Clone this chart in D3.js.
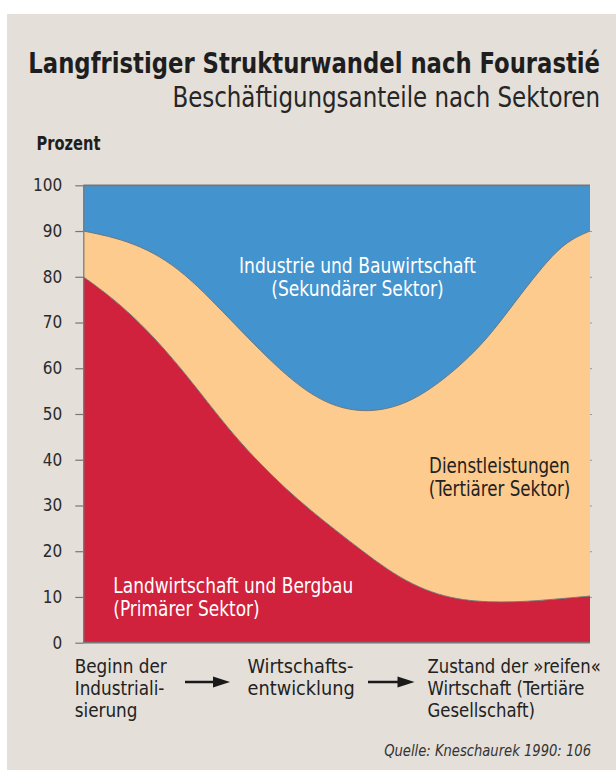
<!DOCTYPE html>
<html>
<head>
<meta charset="utf-8">
<script src="https://cdn.jsdelivr.net/npm/d3@7"></script>
<style>
  html, body { margin: 0; padding: 0; background: #fff; }
  svg { display: block; }
  text { font-family: "Liberation Sans Narrow", "DejaVu Sans Condensed", "Roboto", sans-serif; }
</style>
</head>
<body>
<svg id="chart" width="616" height="770"></svg>
<script>
// Fourastié: employment shares by sector over the course of development (stylised).

// development stage, 0 = start of industrialisation, 100 = mature economy
const stages    = [0, 5, 10, 15, 20, 25, 30, 35, 40, 45, 50, 55, 60, 65, 70, 75, 80, 85, 90, 95, 100];
// shares in percent
const primary   = [80, 76.0, 71.2, 65.5, 59.0, 51.9, 45.0, 39.0, 33.6, 28.8, 24.4, 20.1, 16.0, 12.7, 10.5, 9.3, 8.9, 8.9, 9.2, 9.7, 10.2];
const tertiary  = [10, 12.9, 16.0, 19.1, 21.6, 23.4, 24.5, 24.8, 24.9, 25.4, 27.1, 30.4, 35.0, 40.3, 46.1, 51.9, 57.9, 65.3, 72.2, 77.9, 79.8];
const secondary = [10, 11.1, 12.8, 15.4, 19.4, 24.7, 30.5, 36.2, 41.5, 45.8, 48.5, 49.5, 49.0, 47.0, 43.4, 38.8, 33.2, 25.8, 18.6, 12.4, 10.0];

const yTicks = [0, 10, 20, 30, 40, 50, 60, 70, 80, 90, 100];

const sectorKeys   = ["primary", "tertiary", "secondary"];
const sectorColors = { primary: "#d0213d", tertiary: "#fdcb8d", secondary: "#4393ce" };

const areaLabels = [
  { key: "secondary", lines: ["Industrie und Bauwirtschaft", "(Sekundärer Sektor)"] },
  { key: "tertiary",  lines: ["Dienstleistungen", "(Tertiärer Sektor)"] },
  { key: "primary",   lines: ["Landwirtschaft und Bergbau", "(Primärer Sektor)"] }
];

const stageLabels = [
  ["Beginn der", "Industriali-", "sierung"],
  ["Wirtschafts-", "entwicklung"],
  ["Zustand der »reifen«", "Wirtschaft (Tertiäre", "Gesellschaft)"]
];

const title    = "Langfristiger Strukturwandel nach Fourastié";
const subtitle = "Beschäftigungsanteile nach Sektoren";
const source   = "Quelle: Kneschaurek 1990: 106";

const svg = d3.select("#chart");
const W = 616, H = 770;
const plot = { left: 83.3, right: 590, top: 185.3, bottom: 642.7 };

// writes a (multi-line) text and squeezes it sideways so the first line gets the wanted width
function label(o) {
  const t = svg.append("text")
    .attr("text-anchor", o.anchor || "start")
    .attr("fill", o.color || "#222")
    .style("font-size", o.size + "px")
    .style("font-weight", o.weight || "normal")
    .style("font-style", o.italic ? "italic" : "normal");
  o.lines.forEach((line, i) => {
    t.append("tspan").attr("x", 0).attr("y", i * (o.lineH || 0)).text(line);
  });
  let k = 1;
  if (o.width) k = o.width / t.select("tspan").node().getComputedTextLength();
  t.attr("transform", `translate(${o.x},${o.y}) scale(${k},1)`);
  return t;
}

// beige panel
svg.append("rect")
  .attr("x", 7).attr("y", 14).attr("width", W - 7).attr("height", H - 14)
  .attr("fill", "#e4dfd9");

const x = d3.scaleLinear().domain([0, 100]).range([plot.left, plot.right]);
const y = d3.scaleLinear().domain([0, 100]).range([plot.bottom, plot.top]);

const rows = stages.map((s, i) => ({ stage: s, primary: primary[i], tertiary: tertiary[i], secondary: secondary[i] }));
const series = d3.stack().keys(sectorKeys)(rows);

const area = d3.area()
  .x(d => x(d.data.stage))
  .y0(d => y(d[0]))
  .y1(d => y(d[1]))
  .curve(d3.curveBasis);

svg.append("g").selectAll("path")
  .data(series)
  .join("path")
  .attr("d", area)
  .attr("fill", d => sectorColors[d.key]);

// thin grey boundary between the bands
const edge = d3.line()
  .x(d => x(d.data.stage))
  .y(d => y(d[1]))
  .curve(d3.curveBasis);
svg.append("g").selectAll("path")
  .data(series.slice(0, 2))
  .join("path")
  .attr("d", edge)
  .attr("fill", "none")
  .attr("stroke", "#6f6f6f")
  .attr("stroke-width", 0.9);

// axes
const yAxis = svg.append("g")
  .attr("transform", `translate(${plot.left},0)`)
  .call(d3.axisLeft(y).tickValues(yTicks).tickSize(8).tickPadding(13).tickSizeOuter(0));
yAxis.select(".domain").attr("stroke", "#777").attr("stroke-width", 1.2);
yAxis.selectAll(".tick line").attr("stroke", "#777").attr("stroke-width", 1.2);
yAxis.selectAll(".tick text")
  .attr("fill", "#2a2a2a")
  .style("font-size", "17px")
  .style("font-family", '"Liberation Sans Narrow", "DejaVu Sans Condensed", sans-serif');

const yRight = svg.append("g")
  .attr("transform", `translate(${plot.right},0)`)
  .call(d3.axisRight(y).tickValues(yTicks.slice(1, -1)).tickSize(2).tickFormat(""));
yRight.select(".domain").remove();
yRight.selectAll(".tick line").attr("stroke", "#999");

// top and bottom frame lines
svg.append("g").selectAll("line")
  .data([0, 100])
  .join("line")
  .attr("x1", plot.left).attr("x2", plot.right)
  .attr("y1", d => y(d)).attr("y2", d => y(d))
  .attr("stroke", "#777").attr("stroke-width", 1.8);

// title block
label({ lines: [title], x: 600, y: 73, anchor: "end", size: 29, weight: "bold", color: "#1e1e1e", width: 572 });
label({ lines: [subtitle], x: 600, y: 107, anchor: "end", size: 28, color: "#262626", width: 428 });
label({ lines: ["Prozent"], x: 36.5, y: 150, size: 19, weight: "bold", color: "#1e1e1e", width: 64 });

// labels inside the bands
const labelPos = {
  secondary: { x: 357.5, y: 273, anchor: "middle", color: "#ffffff", width: 237 },
  tertiary:  { x: 499.5, y: 473, anchor: "middle", color: "#222222", width: 141 },
  primary:   { x: 113.3, y: 593, anchor: "start",  color: "#ffffff", width: 240 }
};
areaLabels.forEach(l => {
  const p = labelPos[l.key];
  label({ lines: l.lines, x: p.x, y: p.y, anchor: p.anchor, size: 21, color: p.color, width: p.width, lineH: 23.5 });
});

// stage labels under the chart, joined by arrows
const stagePos = [{ x: 74.7, width: 92 }, { x: 247.5, width: 106 }, { x: 427.5, width: 173.5 }];
stageLabels.forEach((lines, j) => {
  label({ lines, x: stagePos[j].x, y: 673, size: 19.5, color: "#222", width: stagePos[j].width, lineH: 22 });
});

const arrows = [[185, 230], [368, 414.5]];
const arrowY = 682;
arrows.forEach(([a, b]) => {
  svg.append("line")
    .attr("x1", a).attr("x2", b - 12)
    .attr("y1", arrowY).attr("y2", arrowY)
    .attr("stroke", "#1a1a1a").attr("stroke-width", 2.6);
  svg.append("path")
    .attr("d", `M${b},${arrowY} L${b - 17},${arrowY - 5.5} L${b - 17},${arrowY + 5.5} Z`)
    .attr("fill", "#1a1a1a");
});

label({ lines: [source], x: 591, y: 756, anchor: "end", size: 15.5, italic: true, color: "#333", width: 207 });
</script>
</body>
</html>
